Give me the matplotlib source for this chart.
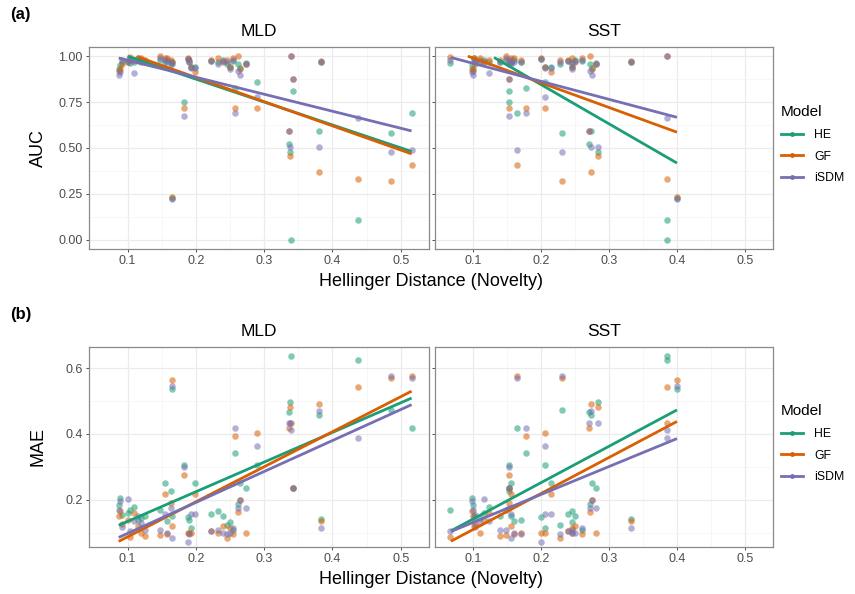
import numpy as np
import matplotlib
matplotlib.use("Agg")
import matplotlib.pyplot as plt
from matplotlib.lines import Line2D

plt.rcParams['font.family'] = ['Liberation Sans', 'DejaVu Sans']

# one entry per scenario: novelty for MLD and SST, then AUC / MAE per model
mld_dist = [0.516, 0.486, 0.438, 0.380, 0.383, 0.338, 0.336, 0.339, 0.343, 0.257, 0.290,
            0.183, 0.165,
            0.087, 0.089, 0.092, 0.100, 0.104, 0.110, 0.115, 0.120, 0.125, 0.148,
            0.155, 0.158, 0.163, 0.165, 0.188, 0.190, 0.193, 0.199, 0.222, 0.232,
            0.240, 0.245, 0.250, 0.255, 0.262, 0.265, 0.273]
sst_dist = [0.164, 0.230, 0.386, 0.274, 0.333, 0.283, 0.270, 0.386, 0.153, 0.177, 0.206,
            0.153, 0.400,
            0.100, 0.098, 0.103, 0.115, 0.066, 0.123, 0.101, 0.110, 0.140, 0.148,
            0.155, 0.160, 0.152, 0.156, 0.200, 0.170, 0.205, 0.215, 0.240, 0.245,
            0.250, 0.228, 0.245, 0.260, 0.272, 0.275, 0.280]

auc_he = [0.69, 0.58, 0.11, 0.595, 0.97, 0.48, 0.52, 0.00, 0.81, 0.828, 0.86,
          0.75, 0.23,
          0.93, 0.95, 0.97, 0.98, 0.964, 0.97, 0.99, 0.98, 0.97, 0.98,
          0.97, 0.98, 0.96, 0.97, 0.985, 0.97, 0.94, 0.94, 0.975, 0.97,
          0.98, 0.96, 0.94, 0.975, 0.96, 0.933, 0.965]
auc_gf = [0.41, 0.32, 0.333, 0.367, 0.975, 0.457, 0.595, 1.00, 0.875, 0.72, 0.72,
          0.72, 0.235,
          0.92, 0.93, 0.96, 0.97, 0.996, 0.98, 0.99, 0.99, 0.98, 1.00,
          0.99, 0.99, 0.98, 0.97, 0.99, 0.98, 0.94, 0.915, 0.98, 0.99,
          0.97, 0.98, 0.94, 0.99, 1.00, 0.93, 0.96]
auc_isdm = [0.49, 0.48, 0.665, 0.505, 0.97, 0.508, 0.59, 1.00, 0.875, 0.689, 0.78,
            0.675, 0.22,
            0.90, 0.915, 0.98, 0.97, 0.98, 0.91, 0.98, 0.97, 0.97, 0.99,
            0.98, 0.97, 0.97, 0.96, 0.985, 0.97, 0.935, 0.935, 0.975, 0.96,
            0.975, 0.97, 0.93, 0.98, 0.92, 0.90, 0.955]

mae_he = [0.419, 0.473, 0.626, 0.457, 0.142, 0.496, 0.467, 0.637, 0.236, 0.343, 0.307,
          0.307, 0.537,
          0.185, 0.205, 0.154, 0.160, 0.170, 0.177, 0.140, 0.145, 0.150, 0.170,
          0.251, 0.135, 0.228, 0.150, 0.149, 0.140, 0.115, 0.250, 0.156, 0.165,
          0.150, 0.125, 0.134, 0.110, 0.187, 0.250, 0.236]
mae_gf = [0.576, 0.570, 0.542, 0.491, 0.136, 0.481, 0.417, 0.433, 0.236, 0.394, 0.404,
          0.277, 0.565,
          0.151, 0.165, 0.128, 0.140, 0.088, 0.160, 0.120, 0.100, 0.090, 0.092,
          0.217, 0.095, 0.190, 0.120, 0.100, 0.100, 0.100, 0.217, 0.106, 0.100,
          0.120, 0.085, 0.115, 0.095, 0.162, 0.200, 0.098]
mae_isdm = [0.570, 0.576, 0.389, 0.470, 0.115, 0.432, 0.432, 0.411, 0.236, 0.419, 0.363,
            0.299, 0.547,
            0.169, 0.198, 0.118, 0.203, 0.105, 0.135, 0.150, 0.130, 0.110, 0.108,
            0.158, 0.100, 0.175, 0.085, 0.072, 0.095, 0.157, 0.158, 0.106, 0.110,
            0.100, 0.095, 0.100, 0.115, 0.176, 0.200, 0.174]

models = ["HE", "GF", "iSDM"]
colors = ["#1B9E77", "#D95F02", "#7570B3"]

# linear trend per model: (x start, y start, x end, y end)
auc_trend_mld = [(0.100, 1.000, 0.516, 0.481), (0.115, 0.996, 0.516, 0.468), (0.087, 0.990, 0.516, 0.593)]
auc_trend_sst = [(0.1305, 0.993, 0.400, 0.418), (0.092, 1.000, 0.400, 0.586), (0.067, 0.993, 0.400, 0.667)]
mae_trend_mld = [(0.087, 0.123, 0.516, 0.509), (0.087, 0.074, 0.516, 0.530), (0.087, 0.086, 0.516, 0.489)]
mae_trend_sst = [(0.067, 0.106, 0.400, 0.473), (0.067, 0.0745, 0.400, 0.438), (0.067, 0.104, 0.400, 0.386)]

W, H = 855, 594


def px_axes(fig, x0, y0, x1, y1):
    """Add axes from pixel box (top-left origin)."""
    return fig.add_axes([x0 / W, 1 - y1 / H, (x1 - x0) / W, (y1 - y0) / H])


def style_panel(ax, ylim, yticks, yminor, show_ylabels):
    ax.set_xlim(0.0435, 0.5415)
    ax.set_ylim(*ylim)
    ax.set_xticks([0.1, 0.2, 0.3, 0.4, 0.5])
    ax.set_xticks([0.15, 0.25, 0.35, 0.45], minor=True)
    ax.set_yticks(yticks)
    ax.set_yticks(yminor, minor=True)
    ax.grid(True, which='major', color='#EBEBEB', lw=0.9, zorder=0)
    ax.grid(True, which='minor', color='#F4F4F4', lw=0.5, zorder=0)
    ax.set_axisbelow(True)
    for s in ax.spines.values():
        s.set_color('#8A8A8A')
        s.set_linewidth(0.9)
    ax.tick_params(which='major', length=2.5, width=0.6, color='#333333',
                   labelsize=9, labelcolor='#4D4D4D', pad=2)
    ax.tick_params(which='minor', length=0)
    if not show_ylabels:
        ax.tick_params(axis='y', labelleft=False)


def draw_panel(ax, xs, ys_list, trends):
    for ys, col in zip(ys_list, colors):
        ax.scatter(xs, ys, s=22, color=col, alpha=0.55, lw=0, zorder=3)
    for (x0, y0, x1, y1), col in zip(trends, colors):
        ax.plot([x0, x1], [y0, y1], color=col, lw=2.0, zorder=4, solid_capstyle='butt')


fig = plt.figure(figsize=(W / 100, H / 100), dpi=100)

auc_all = [auc_he, auc_gf, auc_isdm]
mae_all = [mae_he, mae_gf, mae_isdm]

rows = [
    (47, 249, auc_all, auc_trend_mld, auc_trend_sst, (-0.05, 1.05),
     [0, 0.25, 0.5, 0.75, 1.0], [0.125, 0.375, 0.625, 0.875], "AUC", "(a)"),
    (347, 547, mae_all, mae_trend_mld, mae_trend_sst, (0.057, 0.664),
     [0.2, 0.4, 0.6], [0.1, 0.3, 0.5], "MAE", "(b)"),
]

for top, bot, vals, tr_mld, tr_sst, ylim, yt, ymin, ylab, tag in rows:
    ax1 = px_axes(fig, 89, top, 429, bot)
    ax2 = px_axes(fig, 435, top, 773, bot)
    draw_panel(ax1, mld_dist, vals, tr_mld)
    draw_panel(ax2, sst_dist, vals, tr_sst)
    style_panel(ax1, ylim, yt, ymin, True)
    style_panel(ax2, ylim, yt, ymin, False)
    if ylab == "AUC":
        ax1.set_yticklabels(["0.00", "0.25", "0.50", "0.75", "1.00"])
    fig.text(259 / W, 1 - (top - 16) / H, "MLD", ha='center', va='center', fontsize=12.5)
    fig.text(604 / W, 1 - (top - 16) / H, "SST", ha='center', va='center', fontsize=12.5)
    fig.text(431 / W, 1 - (bot + 32) / H, "Hellinger Distance (Novelty)",
             ha='center', va='center', fontsize=13)
    fig.text(38 / W, 1 - (top + bot) / 2 / H, ylab, ha='center', va='center',
             rotation=90, fontsize=13)
    fig.text(10 / W, 1 - (top - 32) / H, tag, ha='left', va='center',
             fontsize=12, fontweight='bold')

    handles = [Line2D([0], [0], color=c, lw=2.0, marker='o', markersize=3.5,
                      markerfacecolor=c, markeredgewidth=0) for c in colors]
    mid = (top + bot) / 2
    leg = fig.legend(handles, models, title="Model", loc='upper left',
                     bbox_to_anchor=(770 / W, 1 - (mid - 54) / H), frameon=False,
                     fontsize=8.8, title_fontsize=11, handlelength=1.8,
                     handletextpad=0.9, labelspacing=0.8, alignment='left')

plt.savefig('out.png', dpi=100)
